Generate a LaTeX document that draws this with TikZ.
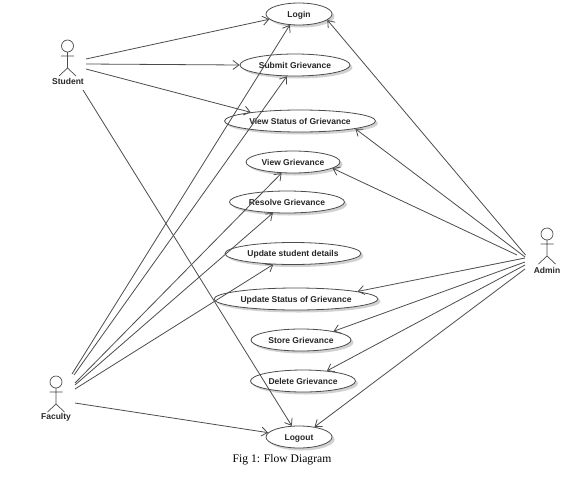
\documentclass[tikz,border=0pt]{standalone}
\usepackage{fontspec}
\setmainfont{Liberation Serif}
\setsansfont{Liberation Sans}
\usetikzlibrary{arrows.meta,shapes.geometric,shadows}
\definecolor{umlline}{gray}{0.3}
\tikzset{
    usecase/.style={ellipse, draw=umlline, fill=white, line width=0.8pt, inner sep=0pt, text height=6pt, text depth=0pt, font=\sffamily\bfseries\fontsize{8.5}{10}\selectfont, text=black!85,
        drop shadow={shadow xshift=2.5pt, shadow yshift=-2.5pt, opacity=0.18, fill=black}},
    actorlabel/.style={font=\sffamily\bfseries\fontsize{8.5}{10}\selectfont, text=black!85, inner sep=0pt},
    assoc/.style={draw=umlline, line width=0.8pt, -{Straight Barb[length=6pt,width=9pt]}},
    actor/.pic={
        \draw[umlline, line width=0.7pt] (0,0) circle (6) (0,6) -- (0,22) (-6.5,10) -- (6.5,10) (-8.5,30) -- (0,22) -- (8.5,30);
    }
}
\begin{document}
\begin{tikzpicture}[x=1pt,y=-1pt]
\useasboundingbox (0,0) rectangle (577,479);

% use cases
\node[usecase, minimum width=66pt, minimum height=22pt] (login) at (299,14) {Login};
\node[usecase, minimum width=110pt, minimum height=22pt] (submit) at (295,65) {Submit Grievance};
\node[usecase, minimum width=151pt, minimum height=22pt] (viewstatus) at (300,121) {View Status of Grievance};
\node[usecase, minimum width=94pt, minimum height=22pt] (view) at (293,162) {View Grievance};
\node[usecase, minimum width=115pt, minimum height=22pt] (resolve) at (287,202) {Resolve Grievance};
\node[usecase, minimum width=136pt, minimum height=22pt] (student) at (293,253.5) {Update student details};
\node[usecase, minimum width=164pt, minimum height=22pt] (updatestatus) at (296,299) {Update Status of Grievance};
\node[usecase, minimum width=100pt, minimum height=22pt] (store) at (301,340) {Store Grievance};
\node[usecase, minimum width=105pt, minimum height=22pt] (delete) at (303,381) {Delete Grievance};
\node[usecase, minimum width=66pt, minimum height=22pt] (logout) at (299,437) {Logout};

% actors
\pic at (67.5,46) {actor};
\pic at (56,382) {actor};
\pic at (547,234) {actor};
\node[actorlabel] (studentlabel) at (68,81.5) {Student};
\node[actorlabel] (facultylabel) at (56,417.5) {Faculty};
\node[actorlabel] (adminlabel) at (547,270) {Admin};

% free ends of the associations
\coordinate (s1) at (86,59);
\coordinate (s2) at (86,64);
\coordinate (s3) at (86,69);
\coordinate (s4) at (83,90);
\coordinate (f1) at (72,374);
\coordinate (f2) at (74,375);
\coordinate (f3) at (75,383);
\coordinate (f4) at (75,385);
\coordinate (f5) at (75,389);
\coordinate (f6) at (75,403);
\coordinate (a1) at (525.5,255);
\coordinate (a2) at (525,257);
\coordinate (a3) at (517,255);
\coordinate (a4) at (525,258);
\coordinate (a5) at (525,262);
\coordinate (a6) at (525,265);
\coordinate (a7) at (525,269);

\draw[assoc] (s1) -- (login.190);
\draw[assoc] (s2) -- (submit.west);
\draw[assoc] (s3) -- (viewstatus.170);
\draw[assoc] (s4) -- (logout.123);

\draw[assoc] (f1) -- (login.230);
\draw[assoc] (f2) -- (submit.234);
\draw[assoc] (f3) -- (view.224);
\draw[assoc] (f4) -- (resolve.218);
\draw[assoc] (f5) -- (student.209);
\draw[assoc] (f6) -- (logout.172);

\draw[assoc] (a1) -- (login.-12);
\draw[assoc] (a2) -- (viewstatus.-8);
\draw[assoc] (a3) -- (view.-9);
\draw[assoc] (a4) -- (updatestatus.7);
\draw[assoc] (a5) -- (store.15);
\draw[assoc] (a6) -- (delete.23);
\draw[assoc] (a7) -- (logout.33);

\node[font=\fontsize{11.6}{13}\selectfont, inner sep=0pt] (caption) at (282,460) {Fig 1: Flow Diagram};
\end{tikzpicture}
\end{document}
